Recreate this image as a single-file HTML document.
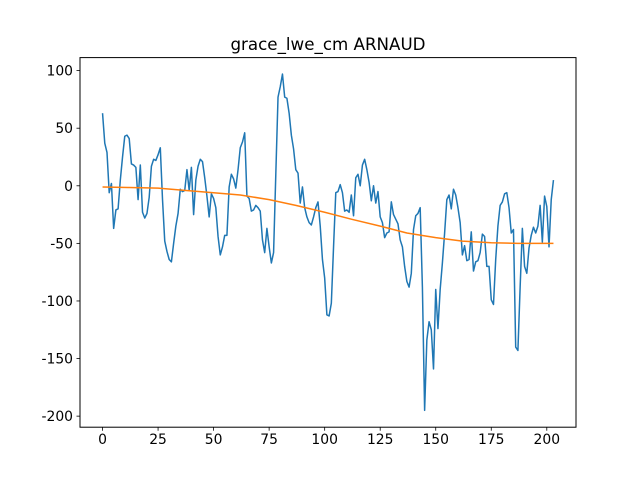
<!DOCTYPE html>
<html><head><meta charset="utf-8"><style>
body{margin:0;background:#fff}
svg text{font-family:"DejaVu Sans","Liberation Sans",sans-serif;fill:#000}
</style></head><body>
<svg id="chart" width="640" height="480" viewBox="0 0 640 480">
<rect width="640" height="480" fill="#fff"/>
<text x="328" y="50" font-size="16.7" text-anchor="middle">grace_lwe_cm ARNAUD</text>
<g id="ticks"></g>
<g id="series"></g>
<rect x="80" y="57.6" width="496" height="369.6" fill="none" stroke="#000" stroke-width="1"/>
</svg>
<script>
const values = [63,37,29,-6,2,-37,-21,-20,5,25,43,44,41,19,18,16,-12,18,-23,-28,-24,-10,17,23,22,27,33,-12,-48,-57,-64,-66,-50,-35,-24,-3,-5,-4,14,-4,16,-25,5,17,23,21,7,-9,-27,-7,-11,-19,-44,-60,-53,-43,-43,-1,10,6,-2,14,33,38,46,-9,-11,-22,-21,-17,-19,-22,-47,-58,-37,-53,-67,-58,10,77,86,97,77,76,63,44,32,14,11,-15,-1,-19,-27,-32,-34,-27,-19,-14,-35,-64,-80,-112,-113,-102,-53,-6,-5,1,-6,-22,-21,-23,-8,-26,7,10,0,18,23,14,3,-13,0,-15,-5,-27,-32,-45,-41,-40,-14,-25,-29,-33,-47,-53,-70,-83,-88,-76,-38,-26,-24,-19,-88,-195,-134,-118,-125,-159,-90,-124,-90,-67,-41,-12,-8,-20,-3,-8,-19,-32,-60,-52,-65,-64,-40,-74,-66,-65,-58,-42,-44,-70,-70,-99,-103,-64,-35,-17,-14,-7,-6,-19,-41,-38,-140,-143,-88,-37,-70,-76,-54,-43,-36,-41,-35,-17,-49,-9,-18,-53,-12,5];
const trendX = [0,12,25,37,50,62,75,87,100,112,125,137,150,162,175,187,203];
const trendY = [-1,-1.5,-2,-4,-6,-8,-12,-17,-23,-29,-35,-41,-45,-48,-49.5,-50,-50];
const xTicks = [0,25,50,75,100,125,150,175,200];
const yTicks = [-200,-150,-100,-50,0,50,100];

const X0=80,X1=576,Y0=427.2,Y1=57.6, xmin=-10.15,xmax=213.15, ymin=-209.6,ymax=111.3;
const sx=v=>X0+(v-xmin)/(xmax-xmin)*(X1-X0);
const sy=v=>Y0-(v-ymin)/(ymax-ymin)*(Y0-Y1);
const NS="http://www.w3.org/2000/svg";
const tg=document.getElementById('ticks'), sg=document.getElementById('series');
function mk(tag,attrs,parent){const e=document.createElementNS(NS,tag);for(const k in attrs)e.setAttribute(k,attrs[k]);parent.appendChild(e);return e;}
xTicks.forEach(t=>{
  const l=mk('line',{x1:sx(t),x2:sx(t),y1:Y0,y2:Y0+3.5,stroke:'#000','stroke-width':0.8},tg);
  
  
  const tx=mk('text',{x:sx(t),y:Y0+17,'font-size':13.9,'text-anchor':'middle'},tg);
  tx.textContent=t;
  
  
});
yTicks.forEach(t=>{
  const l=mk('line',{x1:X0-3.5,x2:X0,y1:sy(t),y2:sy(t),stroke:'#000','stroke-width':0.8},tg);
  
  
  const tx=mk('text',{x:X0-7,y:sy(t)+5,'font-size':13.9,'text-anchor':'end'},tg);
  tx.textContent=t;
  
  
});
const p1=mk('polyline',{points:values.map((v,i)=>sx(i)+','+sy(v)).join(' '),fill:'none',stroke:'#1f77b4','stroke-width':1.5,'stroke-linejoin':'round'},sg);


const p2=mk('polyline',{points:trendX.map((x,i)=>sx(x)+','+sy(trendY[i])).join(' '),fill:'none',stroke:'#ff7f0e','stroke-width':1.5,'stroke-linejoin':'round'},sg);


</script>
</body></html>
